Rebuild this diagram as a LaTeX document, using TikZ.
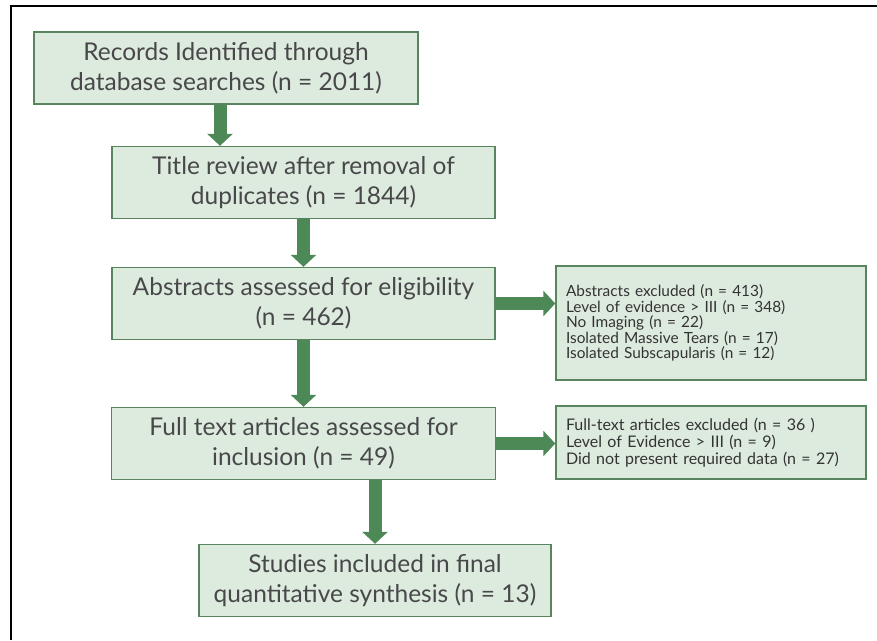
\documentclass[tikz,border=0pt]{standalone}
\usepackage{fontspec}
\setmainfont{Lato}
\usepackage{tikz}
\usetikzlibrary{arrows.meta, calc}

\definecolor{boxfill}{RGB}{221,234,222}
\definecolor{boxline}{RGB}{88,132,94}
\definecolor{arrowgreen}{RGB}{76,137,86}
\definecolor{textgray}{RGB}{72,72,74}

\begin{document}
\begin{tikzpicture}[x=1pt, y=-1pt,
    stagebox/.style={draw=boxline, line width=1.4pt, fill=boxfill, text=textgray,
        align=center, inner sep=0pt, minimum height=72pt,
        font=\fontsize{24.5}{30}\selectfont},
    sidebox/.style={draw=boxline, line width=1.4pt, fill=boxfill, text=black!80,
        align=left, inner xsep=10pt, inner ysep=0pt, text width=290pt},
    flow/.style={draw=arrowgreen, line width=13pt,
        -{Triangle[length=12pt, width=25pt]}}]
\useasboundingbox (0,0) rectangle (877,640);
% Page frame
\draw[line width=2.5pt] (11,640) -- (11,6) -- (877,6);

% Main stages
\node[stagebox, minimum width=384pt] (records) at (226,68)
    {Records Identified through\\database searches (n = 2011)};
\node[stagebox, minimum width=383pt] (title) at (303.5,182.5)
    {Title review after removal of\\duplicates (n = 1844)};
\node[stagebox, minimum width=383pt] (abstracts) at (303.5,303.5)
    {Abstracts assessed for eligibility\\(n = 462)};
\node[stagebox, minimum width=384pt] (fulltext) at (303.5,443.5)
    {Full text articles assessed for\\inclusion (n = 49)};
\node[stagebox, minimum width=352pt] (studies) at (375,580.5)
    {Studies included in final\\quantitative synthesis (n = 13)};

% Exclusions
\node[sidebox, minimum height=114pt, font=\fontsize{15.4}{15.5}\selectfont] (absexcl) at (711,323)
    {Abstracts excluded (n = 413)\\Level of evidence > III (n = 348)\\No Imaging (n = 22)\\Isolated Massive Tears (n = 17)\\Isolated Subscapularis (n = 12)};
\node[sidebox, minimum height=73pt, font=\fontsize{16}{17}\selectfont] (fullexcl) at (711,442.5)
    {Full-text articles excluded (n = 36 )\\Level of Evidence > III (n = 9)\\Did not present required data (n = 27)};

% Arrows
\coordinate (recordsout) at ($(records.south)+(-6,0)$);
\draw[flow] (recordsout) -- (recordsout |- title.north);
\draw[flow] (title.south) -- (abstracts.north);
\draw[flow] (abstracts.south) -- (fulltext.north);
\draw[flow] (fulltext.south -| studies.north) -- (studies.north);
\draw[flow] (abstracts.east) -- (abstracts.east -| absexcl.west);
\draw[flow] (fulltext.east) -- (fulltext.east -| fullexcl.west);
\end{tikzpicture}
\end{document}
